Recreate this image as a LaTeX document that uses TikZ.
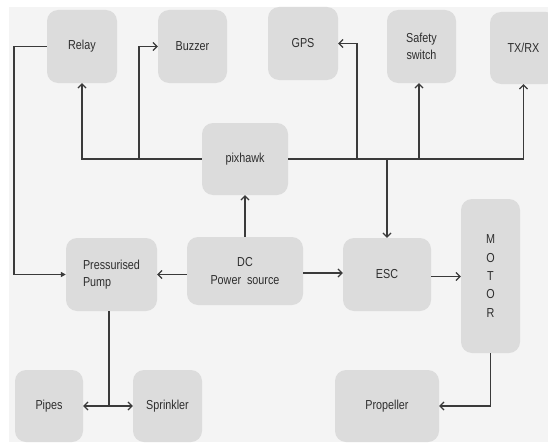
\documentclass[tikz,border=0pt]{standalone}
\usepackage{fontspec}
\setmainfont{Liberation Sans}[FakeStretch=0.83]
\usetikzlibrary{arrows.meta}
\definecolor{bg}{HTML}{F4F4F4}
\definecolor{boxc}{HTML}{DCDCDC}
\definecolor{linec}{HTML}{3A3A3A}
\definecolor{txt}{HTML}{2E2E2E}
\tikzset{
  blk/.style={fill=boxc, rounded corners=11pt, inner sep=0pt, text=txt,
    font=\fontsize{13}{17.5}\selectfont, align=center},
  conn/.style={draw=linec, line width=1.4pt},
  arr/.style={conn, -{Straight Barb[length=4pt,width=8pt,line width=1.2pt]}},
  arrf/.style={conn, -{Triangle[length=5pt,width=5pt]}}
}
\begin{document}
\begin{tikzpicture}[x=1pt,y=-1pt]
\useasboundingbox (0,0) rectangle (548,444);
\fill[white] (0,0) rectangle (548,444);
\fill[bg] (9,7) rectangle (548,442);
\begin{scope}
\clip (0,0) rectangle (548,444);
\node[blk, minimum width=70pt, minimum height=73pt] (relay) at (82,46.5) {Relay};
\node[blk, minimum width=69pt, minimum height=73pt] (buzzer) at (192.5,46.5) {Buzzer};
\node[blk, minimum width=70pt, minimum height=73pt] (gps) at (303,43.5) {GPS};
\node[blk, minimum width=69pt, minimum height=73pt] (safety) at (421.5,46.5) {Safety\\switch};
\node[blk, minimum width=67pt, minimum height=72pt] (txrx) at (523.5,48) {TX/RX};
\node[blk, minimum width=86pt, minimum height=72pt] (pixhawk) at (245,159) {pixhawk};
\node[blk, minimum width=116pt, minimum height=68pt] (dc) at (245,271) {DC\\Power\ \ source};
\node[blk, minimum width=91pt, minimum height=73pt, align=left] (pump) at (111.5,274.5) {Pressurised\\Pump};
\node[blk, minimum width=88pt, minimum height=73pt] (esc) at (387,274.5) {ESC};
\node[blk, minimum width=59pt, minimum height=154pt, font=\fontsize{13}{18.3}\selectfont] (motor) at (490.5,276) {M\\O\\T\\O\\R};
\node[blk, minimum width=68pt, minimum height=72pt] (pipes) at (49,406) {Pipes};
\node[blk, minimum width=69pt, minimum height=72pt] (sprinkler) at (167.5,406) {Sprinkler};
\node[blk, minimum width=104pt, minimum height=72pt] (propeller) at (387,406) {Propeller};
\end{scope}
\coordinate (jb) at (139,159);
\coordinate (jg) at (357,159);
\coordinate (js) at (419,159);
\coordinate (je) at (387,159);
\coordinate (rl) at (14,46.5);
\coordinate (pj) at (109,406);
% bus
\draw[arr] (pixhawk.west) -| (relay.south);
\draw[arr] (jb) |- (buzzer.west);
\draw[arr] (pixhawk.east) -| (txrx.south);
\draw[arr] (jg) |- (gps.east);
\draw[arr] (js) -- (js |- safety.south);
\draw[arr] (je) -- (esc.north);
% power
\draw[arr] (dc.north) -- (pixhawk.south);
\draw[arr] (dc.west |- pump.east) -- (pump.east);
\draw[arr] ([yshift=-2pt]dc.east) -- ([yshift=-2pt]dc.east -| esc.west);
\draw[arr] ([yshift=-2pt]esc.east) -- ([yshift=-2pt]esc.east -| motor.west);
\draw[arr] (motor.south) |- (propeller.east);
% relay to pump
\draw[arrf] (relay.west) -- (rl) |- (pump.west);
% pump outputs
\draw[conn] (pump.south -| pj) -- (pj);
\draw[arr] (pj) -- (pipes.east);
\draw[arr] (pj) -- (sprinkler.west);
\end{tikzpicture}
\end{document}
